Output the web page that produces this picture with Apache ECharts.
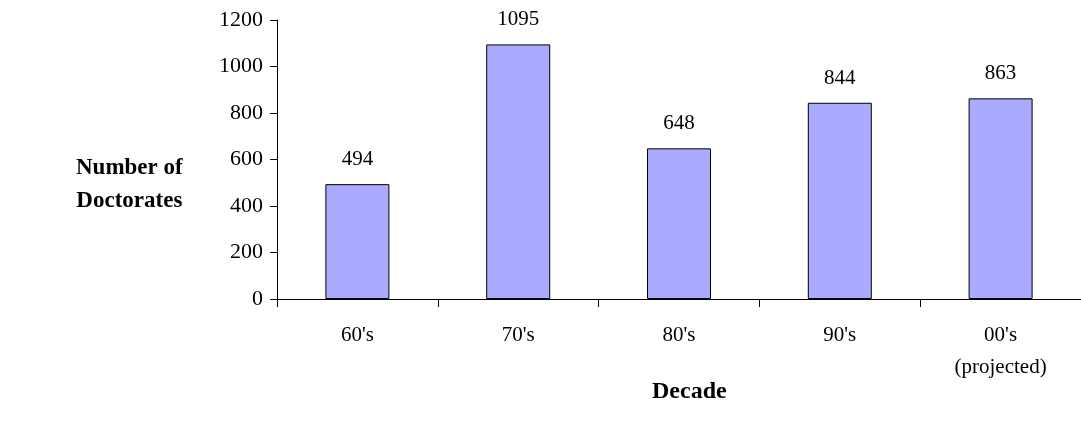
<!DOCTYPE html>
<html><head><meta charset="utf-8">
<script src="https://cdn.jsdelivr.net/npm/echarts@6/dist/echarts.min.js"></script>
<style>html,body{margin:0;background:#fff}#c{width:1081px;height:433px}</style>
</head><body><div id="c"></div>
<script>
const categories = ["60's", "70's", "80's", "90's", "00's\n(projected)"];
const doctorates = [494, 1095, 648, 844, 863];
const yTicks = [0, 200, 400, 600, 800, 1000, 1200];

const font = 'Liberation Serif';
const chart = echarts.init(document.getElementById('c'));
chart.setOption({
    animation: false,
    grid: { left: 277, top: 20, width: 808, height: 279 },
    xAxis: {
        type: 'category',
        data: categories,
        axisLine: { lineStyle: { color: '#000' } },
        axisTick: { show: true, length: 8, lineStyle: { color: '#000' } },
        axisLabel: { color: '#000', fontFamily: font, fontSize: 21, margin: 20, lineHeight: 32 },
    },
    yAxis: {
        type: 'value',
        min: yTicks[0],
        max: yTicks[yTicks.length - 1],
        interval: 200,
        splitLine: { show: false },
        axisLine: { show: true, lineStyle: { color: '#000' } },
        axisTick: { show: true, length: 7, lineStyle: { color: '#000' } },
        axisLabel: { color: '#000', fontFamily: font, fontSize: 22, margin: 14, formatter: v => String(v) },
    },
    graphic: [
        { type: 'text', left: 76, top: 152, style: { text: 'Number of\nDoctorates', font: 'bold 23px ' + font, fill: '#000', textAlign: 'center', lineHeight: 33 } },
        { type: 'text', left: 652, top: 380, style: { text: 'Decade', font: 'bold 24px ' + font, fill: '#000' } },
    ],
    series: [{
        type: 'bar',
        data: doctorates,
        barWidth: 64,
        itemStyle: { color: '#aaaaff', borderColor: '#000', borderWidth: 1 },
        label: { show: true, position: 'top', distance: 14, color: '#000', fontFamily: font, fontSize: 21 },
    }],
});
</script></body></html>
